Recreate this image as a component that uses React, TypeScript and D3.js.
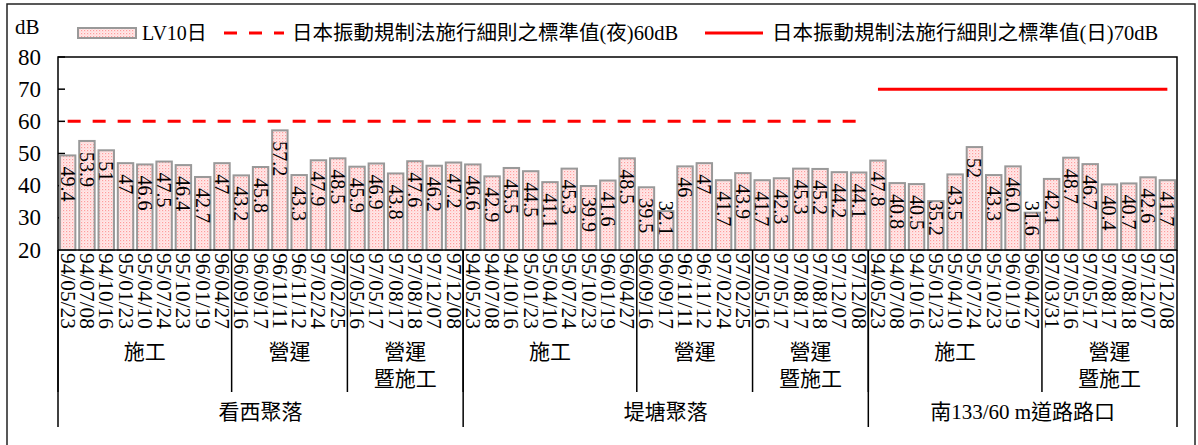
import React from "react";
import { scaleBand, scaleLinear, range, sum } from "d3";

// measurement dates (x categories), in plotting order
const dates = [
  "94/05/23", "94/07/08", "94/10/16", "95/01/23", "95/04/10", "95/07/24", "95/10/23", "96/01/19", "96/04/27",
  "96/09/16", "96/09/17", "96/11/11", "96/11/12", "97/02/24", "97/02/25",
  "97/05/16", "97/05/17", "97/08/17", "97/08/18", "97/12/07", "97/12/08",
  "94/05/23", "94/07/08", "94/10/16", "95/01/23", "95/04/10", "95/07/24", "95/10/23", "96/01/19", "96/04/27",
  "96/09/16", "96/09/17", "96/11/11", "96/11/12", "97/02/24", "97/02/25",
  "97/05/16", "97/05/17", "97/08/17", "97/08/18", "97/12/07", "97/12/08",
  "94/05/23", "94/07/08", "94/10/16", "95/01/23", "95/04/10", "95/07/24", "95/10/23", "96/01/19", "96/04/27",
  "97/03/31", "97/05/16", "97/05/17", "97/08/17", "97/08/18", "97/12/07", "97/12/08",
];

// LV10 daytime values (dB)
const lv10 = [
  49.4, 53.9, 51, 47, 46.6, 47.5, 46.4, 42.7, 47,
  43.2, 45.8, 57.2, 43.3, 47.9, 48.5,
  45.9, 46.9, 43.8, 47.6, 46.2, 47.2,
  46.6, 42.9, 45.5, 44.5, 41.1, 45.3, 39.9, 41.6, 48.5,
  39.5, 32.1, 46, 47, 41.7, 43.9,
  41.7, 42.3, 45.3, 45.2, 44.2, 44.1,
  47.8, 40.8, 40.5, 35.2, 43.5, 52, 43.3, 46.0, 31.6,
  42.1, 48.7, 46.7, 40.4, 40.7, 42.6, 41.7,
];
const valueText = [
  "49.4", "53.9", "51", "47", "46.6", "47.5", "46.4", "42.7", "47",
  "43.2", "45.8", "57.2", "43.3", "47.9", "48.5",
  "45.9", "46.9", "43.8", "47.6", "46.2", "47.2",
  "46.6", "42.9", "45.5", "44.5", "41.1", "45.3", "39.9", "41.6", "48.5",
  "39.5", "32.1", "46", "47", "41.7", "43.9",
  "41.7", "42.3", "45.3", "45.2", "44.2", "44.1",
  "47.8", "40.8", "40.5", "35.2", "43.5", "52", "43.3", "46.0", "31.6",
  "42.1", "48.7", "46.7", "40.4", "40.7", "42.6", "41.7",
];

// phase sub-groups (label lines + how many dates each covers)
const phaseLabels = [
  ["施工"], ["營運"], ["營運", "暨施工"],
  ["施工"], ["營運"], ["營運", "暨施工"],
  ["施工"], ["營運", "暨施工"],
];
const phaseCounts = [9, 6, 6, 9, 6, 6, 9, 7];

// sites
const siteNames = ["看西聚落", "堤塘聚落", "南133/60 m道路路口"];
const siteCounts = [21, 21, 16];

const yTicks = [20, 30, 40, 50, 60, 70, 80];
const nightLimit = 60; // dashed, first two sites
const dayLimit = 70; // solid, third site

const W = 1198;
const H = 445;
const left = 58, right = 1177, top = 57, bottom = 250;
const font = "'Liberation Serif', 'Times New Roman', 'DejaVu Serif', 'Noto Sans CJK TC', serif";

export default function App() {
  const idx = range(dates.length);
  const x = scaleBand<number>().domain(idx).range([left, right]).paddingInner(0.2).paddingOuter(0.1);
  const y = scaleLinear().domain([20, 80]).range([bottom, top]);
  const edge = (i: number) => left + (right - left) * (i / dates.length);
  const center = (i: number) => (x(i) as number) + x.bandwidth() / 2;
  // rotated label placed inside the bar end, pushed up when the bar is short
  const labelY = (i: number) => Math.min(y(lv10[i]) + 11, 236 - valueText[i].length * 8.8);

  const phaseStarts = phaseCounts.map((_, i) => sum(phaseCounts.slice(0, i)));
  const siteStarts = siteCounts.map((_, i) => sum(siteCounts.slice(0, i)));
  const nightEnd = siteCounts[0] + siteCounts[1] - 1;

  return (
    <svg width={W} height={H} style={{ position: "absolute", left: 0, top: 0, background: "#fff", fontFamily: font }}>
      <defs>
        <pattern id="dots" width="3" height="3" patternUnits="userSpaceOnUse">
          <rect width="3" height="3" fill="#ffe9e9" />
          <rect x="0" y="0" width="1.2" height="1.2" fill="#ff9c9c" />
          <rect x="1.5" y="1.5" width="1" height="1" fill="#ffc4c4" />
        </pattern>
      </defs>
      <rect x={7} y={4} width={1188} height={460} fill="none" stroke="#222" strokeWidth={1.5} />

      {/* legend */}
      <text x={15} y={34} fontSize={21}>dB</text>
      <rect x={78} y={28} width={58} height={10} fill="url(#dots)" stroke="#999" strokeWidth={2} />
      <text x={142} y={40} fontSize={20}>LV10日</text>
      <line x1={224} x2={284} y1={33} y2={33} stroke="#ff0000" strokeWidth={3} strokeDasharray="13 12" />
      <text x={292} y={40} fontSize={20.5}>日本振動規制法施行細則之標準值(夜)60dB</text>
      <line x1={705} x2={763} y1={33} y2={33} stroke="#ff0000" strokeWidth={3} />
      <text x={772} y={40} fontSize={20.5}>日本振動規制法施行細則之標準值(日)70dB</text>

      {/* y axis */}
      {yTicks.map((t) => (
        <g key={t}>
          <text x={41} y={y(t)} fontSize={23} textAnchor="end" dominantBaseline="central">{t}</text>
          <line x1={left} x2={left + 7} y1={y(t)} y2={y(t)} stroke="#000" strokeWidth={1.5} />
        </g>
      ))}

      {/* bars */}
      {idx.map((i) => (
        <rect key={i} x={x(i)} y={y(lv10[i])} width={x.bandwidth()} height={bottom - y(lv10[i])}
          fill="url(#dots)" stroke="#999" strokeWidth={2} />
      ))}
      {idx.map((i) => (
        <text key={i} transform={`translate(${center(i)},${labelY(i)}) rotate(90)`} fontSize={20}
          dominantBaseline="central">{valueText[i]}</text>
      ))}

      {/* standards */}
      <line x1={center(0)} x2={center(nightEnd)} y1={y(nightLimit)} y2={y(nightLimit)}
        stroke="#ff0000" strokeWidth={3} strokeDasharray="13 12" />
      <line x1={center(nightEnd + 1)} x2={center(dates.length - 1)} y1={y(dayLimit)} y2={y(dayLimit)}
        stroke="#ff0000" strokeWidth={3} />

      {/* plot frame */}
      <rect x={left} y={top} width={right - left} height={bottom - top} fill="none" stroke="#000" strokeWidth={1.5} />

      {/* category axis: dates */}
      {idx.map((i) => (
        <text key={i} transform={`translate(${center(i)},${bottom + 3}) rotate(90)`} fontSize={20}
          dominantBaseline="central" textLength={76} lengthAdjust="spacingAndGlyphs">{dates[i]}</text>
      ))}

      {/* phase dividers and labels */}
      {phaseStarts.map((s, i) => (
        <g key={i}>
          <line x1={edge(s)} x2={edge(s)} y1={bottom} y2={392} stroke="#000" strokeWidth={1.5} />
          {phaseLabels[i].map((l, k) => (
            <text key={k} x={(edge(s) + edge(s + phaseCounts[i])) / 2} y={352 + k * 27} fontSize={21}
              textAnchor="middle" dominantBaseline="central">{l}</text>
          ))}
        </g>
      ))}
      <line x1={right} x2={right} y1={bottom} y2={427} stroke="#000" strokeWidth={1.5} />

      {/* site dividers and labels */}
      {siteStarts.map((s, i) => (
        <g key={i}>
          <line x1={edge(s)} x2={edge(s)} y1={bottom} y2={427} stroke="#000" strokeWidth={1.5} />
          <text x={(edge(s) + edge(s + siteCounts[i])) / 2} y={412} fontSize={21}
            textAnchor="middle" dominantBaseline="central">{siteNames[i]}</text>
        </g>
      ))}
    </svg>
  );
}
